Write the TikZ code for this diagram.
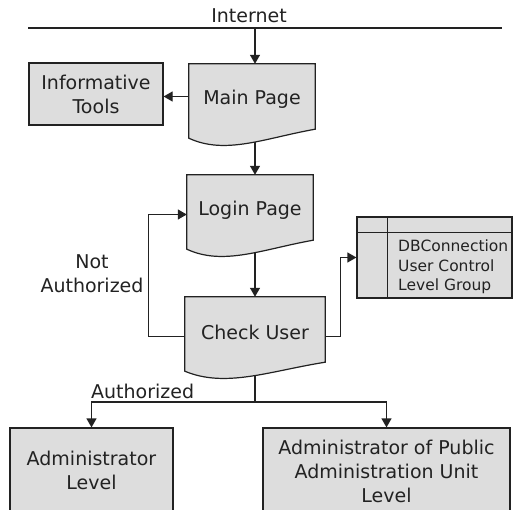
\documentclass[tikz,border=0pt]{standalone}
\usepackage{fontspec}
\setmainfont{DejaVu Sans}
\usetikzlibrary{arrows.meta,calc}
\pgfdeclarelayer{connlayer}
\pgfdeclarelayer{shapelayer}
\pgfsetlayers{connlayer,shapelayer,main}
\definecolor{boxfill}{HTML}{DDDDDD}
\definecolor{lncol}{HTML}{222222}
\tikzset{
  lbl/.style={font=\fontsize{19}{24}\selectfont, align=center, inner sep=0pt, text=lncol},
  box/.style={lbl, draw=lncol, fill=boxfill, line width=1.2pt},
  docnode/.style={lbl, minimum height=65},
  docstyle/.style={draw=lncol, fill=boxfill, line width=1.2pt},
  arr/.style={draw=lncol, line width=1.2pt, -{Triangle[length=9pt,width=10pt]}},
  plainline/.style={draw=lncol, line width=1.2pt},
}
\newcommand\mydocshape[1]{%
  \filldraw[docstyle] (#1.north west) -- (#1.north east) -- (#1.south east)
    .. controls ($(#1.south east)!0.4!(#1.south west)+(0,9)$) and ($(#1.south east)!0.71!(#1.south west)+(0,26)$) ..
    ($(#1.south west)+(0,9)$) -- cycle;}
\newcommand\lowertext[1]{\raisebox{-3pt}[\height][\depth]{#1}}
\begin{document}
\begin{tikzpicture}[x=1pt,y=-1pt]
\useasboundingbox (0,0) rectangle (514,510);
% nodes
\node[lbl] (inet) at (249,16) {Internet};
\coordinate (tapL) at (28,28);
\coordinate (tapR) at (502,28);
\coordinate (spine) at (255,28);
\node[docnode, minimum width=126] (main) at (252,96.5) {\lowertext{Main Page}};
\node[box, minimum width=134, minimum height=62] (info) at (96,94) {Informative\\Tools};
\node[docnode, minimum width=126] (login) at (250,207.5) {\lowertext{Login Page}};
\node[docnode, minimum width=140] (check) at (255,329.5) {\lowertext{Check User}};
\node[box, minimum width=155, minimum height=81] (db) at (434.5,257.5) {};
\draw[plainline] ($(db.north west)+(0,16)$) -- ($(db.north east)+(0,16)$);
\draw[plainline] ($(db.north west)+(31,0)$) -- ($(db.south west)+(31,0)$);
\node[lbl, anchor=west, align=left, font=\fontsize{15.5}{19.5}\selectfont] (dbtext) at (398,267) {DBConnection\\User Control\\Level Group};
\node[box, minimum width=163, minimum height=84] (adm) at (91.5,470) {Administrator\\Level};
\node[box, minimum width=247, minimum height=86] (padm) at (386.5,471) {Administrator of Public\\Administration Unit\\Level};
\node[lbl] (na) at (92,274) {Not\\Authorized};
\node[lbl, anchor=west] (auth) at (91,391) {Authorized};
\coordinate (split) at (255,402);
% document shapes
\begin{pgfonlayer}{shapelayer}
\mydocshape{main}
\mydocshape{login}
\mydocshape{check}
\end{pgfonlayer}
% connectors
\begin{pgfonlayer}{connlayer}
\draw[plainline] (tapL) -- (tapR);
\draw[arr] (spine) -- (spine |- main.north);
\draw[arr] (main.west) -- (main.west -| info.east);
\draw[arr] (spine |- main.south) -- (spine |- login.north);
\draw[arr] (spine |- login.south) -- (spine |- check.north);
\draw[arr] ($(check.west)+(0,7)$) -- ++(-36,0) |- ($(login.west)+(0,7)$);
\draw[arr] ($(check.east)+(0,7)$) -- ++(15,0) |- (db.west);
\draw[plainline] (spine |- check.south) -- (split);
\draw[arr] (split) -| (adm.north);
\draw[arr] (split) -| (padm.north);
\end{pgfonlayer}
\end{tikzpicture}
\end{document}
